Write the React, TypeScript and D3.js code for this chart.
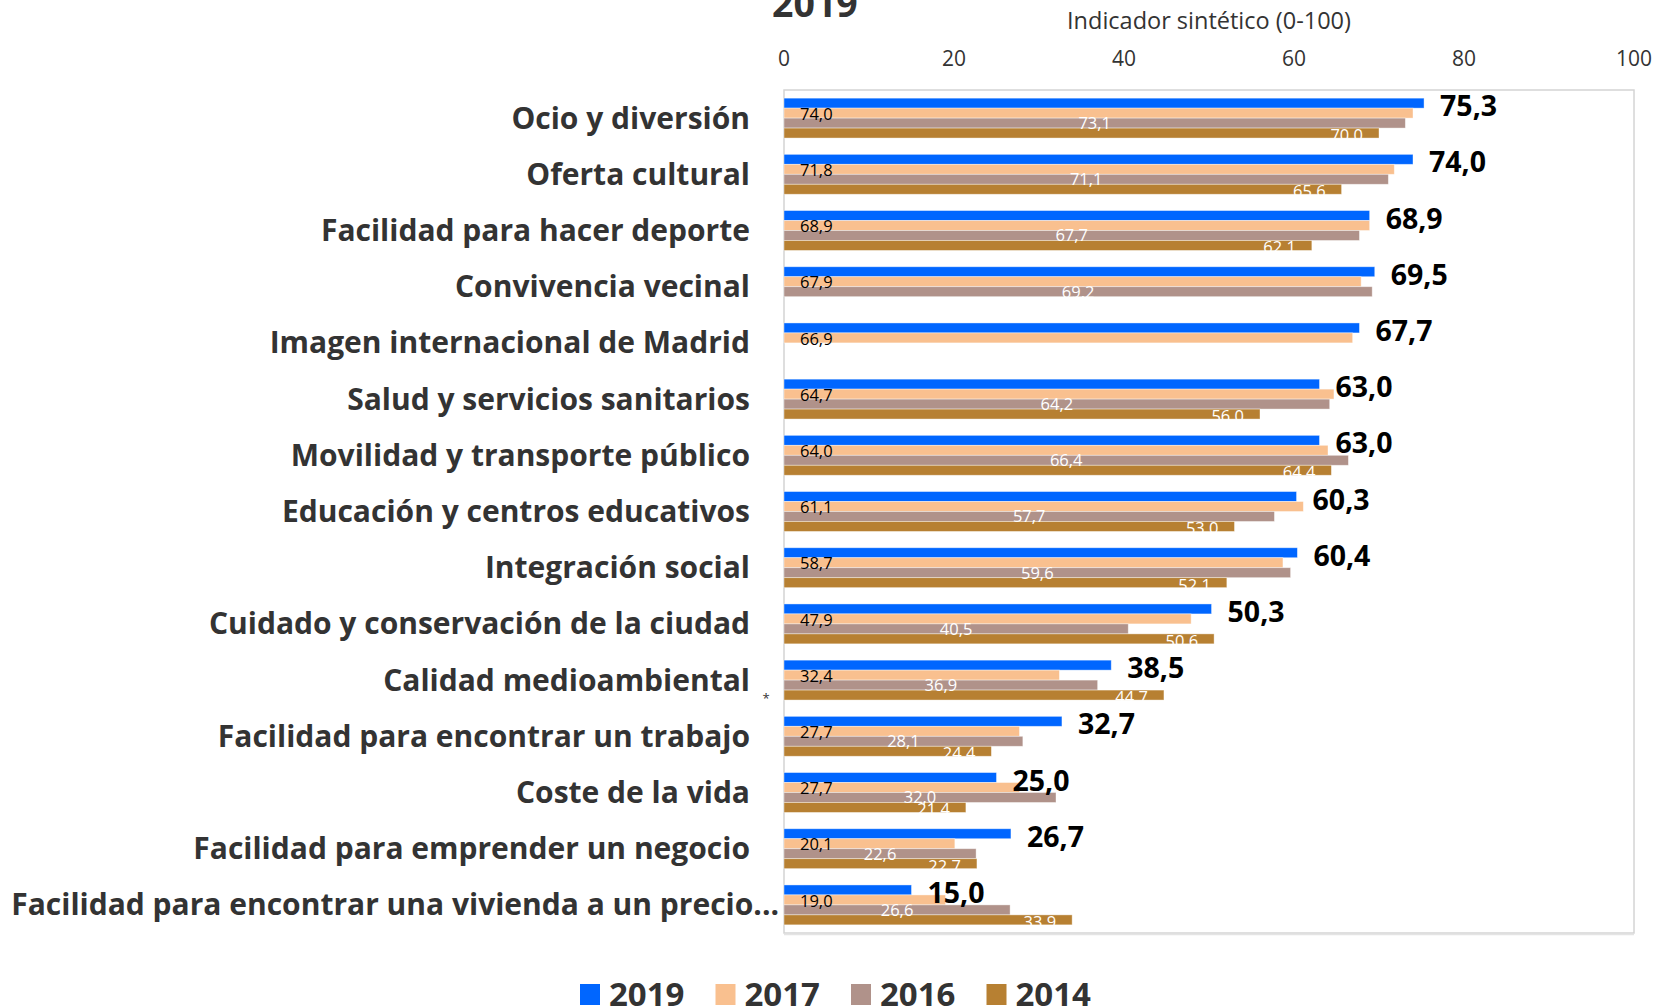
import React from "react";
import * as d3 from "d3";

const categories = [
  "Ocio y diversión",
  "Oferta cultural",
  "Facilidad para hacer deporte",
  "Convivencia vecinal",
  "Imagen internacional de Madrid",
  "Salud y servicios sanitarios",
  "Movilidad y transporte público",
  "Educación y centros educativos",
  "Integración social",
  "Cuidado y conservación de la ciudad",
  "Calidad medioambiental",
  "Facilidad para encontrar un trabajo",
  "Coste de la vida",
  "Facilidad para emprender un negocio",
  "Facilidad para encontrar una vivienda a un precio...",
];

const years = ["2019", "2017", "2016", "2014"];

const values2019 = [75.3, 74.0, 68.9, 69.5, 67.7, 63.0, 63.0, 60.3, 60.4, 50.3, 38.5, 32.7, 25.0, 26.7, 15.0];
const values2017 = [74.0, 71.8, 68.9, 67.9, 66.9, 64.7, 64.0, 61.1, 58.7, 47.9, 32.4, 27.7, 27.7, 20.1, 19.0];
const values2016 = [73.1, 71.1, 67.7, 69.2, null, 64.2, 66.4, 57.7, 59.6, 40.5, 36.9, 28.1, 32.0, 22.6, 26.6];
const values2014 = [70.0, 65.6, 62.1, null, null, 56.0, 64.4, 53.0, 52.1, 50.6, 44.7, 24.4, 21.4, 22.7, 33.9];

const xTicks = [0, 20, 40, 60, 80, 100];

const seriesValues: Record<string, (number | null)[]> = {
  "2019": values2019,
  "2017": values2017,
  "2016": values2016,
  "2014": values2014,
};

const colors: Record<string, string> = {
  "2019": "#0066ff",
  "2017": "#f9c08f",
  "2016": "#b0928a",
  "2014": "#b78032",
};

const FONT = "'Open Sans', 'Noto Sans', sans-serif";
const fmt = (v: number) => d3.format(".1f")(v).replace(".", ",");

export default function App() {
  const W = 1655;
  const H = 1007;
  const x = d3.scaleLinear().domain([0, 100]).range([784, 1634]);
  const y = d3.scaleBand<string>().domain(categories).range([90, 933]).paddingInner(0.29).paddingOuter(0.145);
  const sub = d3.scaleBand<string>().domain(years).range([0, y.bandwidth()]);
  const bh = sub.bandwidth();

  return (
    <svg
      width={W}
      height={H}
      style={{ position: "absolute", left: 0, top: 0, background: "#fff" }}
      fontFamily={FONT}
    >
      <rect x={0} y={0} width={W} height={H} fill="#ffffff" />
      {/* title */}
      <text x={772} y={16.5} fontSize={37.5} fontWeight={700} fill="#333333">2019</text>
      {/* axis title */}
      <text x={1209} y={29} fontSize={23.5} textAnchor="middle" fill="#333333">
        Indicador sintético (0-100)
      </text>
      {/* tick labels */}
      {xTicks.map((t) => (
        <text key={t} x={x(t)} y={65.5} fontSize={21} textAnchor="middle" fill="#333333">
          {t}
        </text>
      ))}
      {/* plot frame */}
      <rect x={x(0)} y={90} width={x(100) - x(0)} height={843} fill="none" stroke="#d4d4d4" strokeWidth={1.5} />
      <line x1={x(0)} x2={x(100)} y1={934.5} y2={934.5} stroke="#e4e4e4" strokeWidth={1.5} />

      {/* bars */}
      {years.map((yr) =>
        categories.map((c, i) => {
          const v = seriesValues[yr][i];
          if (v == null) return null;
          return (
            <rect
              key={yr + c}
              x={x(0)}
              y={(y(c) as number) + (sub(yr) as number)}
              width={x(v) - x(0)}
              height={bh}
              fill={colors[yr]}
              stroke="#ffffff"
              strokeOpacity={0.5}
              strokeWidth={0.8}
            />
          );
        })
      )}

      {/* value labels */}
      {categories.map((c, i) => {
        const top = y(c) as number;
        const v17 = values2017[i];
        const v16 = values2016[i];
        const v14 = values2014[i];
        const v19 = values2019[i];
        const b19 = top + (sub("2019") as number);
        const b17 = top + (sub("2017") as number);
        const b16 = top + (sub("2016") as number);
        const b14 = top + (sub("2014") as number);
        return (
          <g key={"lab" + c}>
            {v17 != null && (
              <text x={x(0) + 16} y={b17 + bh + 1.7} fontSize={16.5} fill="#000000">
                {fmt(v17)}
              </text>
            )}
            {v16 != null && (
              <text x={(x(0) + x(v16)) / 2} y={b16 + bh + 1} fontSize={16.5} textAnchor="middle" fill="#ffffff">
                {fmt(v16)}
              </text>
            )}
            {v14 != null && (
              <text x={x(v14) - 16} y={b14 + bh + 3} fontSize={16.5} textAnchor="end" fill="#ffffff">
                {fmt(v14)}
              </text>
            )}
            <text x={x(v19) + 16} y={b19 + bh / 2 + 13} fontSize={28.5} fontWeight={700} fill="#000000">
              {fmt(v19)}
            </text>
          </g>
        );
      })}

      {/* category labels */}
      {categories.map((c, i) => {
        const last = i === categories.length - 1;
        return (
          <text
            key={"cat" + c}
            x={last ? 779 : 750}
            y={(y(c) as number) + y.bandwidth() / 2 + 10.5}
            fontSize={30}
            fontWeight={700}
            textAnchor="end"
            fill="#333333"
          >
            {c}
          </text>
        );
      })}
      <text x={766} y={703} fontSize={13} textAnchor="middle" fill="#333333">*</text>

      {/* legend */}
      {years.map((yr, k) => {
        const lx = 580 + k * 135.5;
        return (
          <g key={"leg" + yr}>
            <rect x={lx} y={984} width={20} height={21} fill={colors[yr]} />
            <text x={lx + 29} y={1005.5} fontSize={33} fontWeight={700} fill="#333333">
              {yr}
            </text>
          </g>
        );
      })}
    </svg>
  );
}
